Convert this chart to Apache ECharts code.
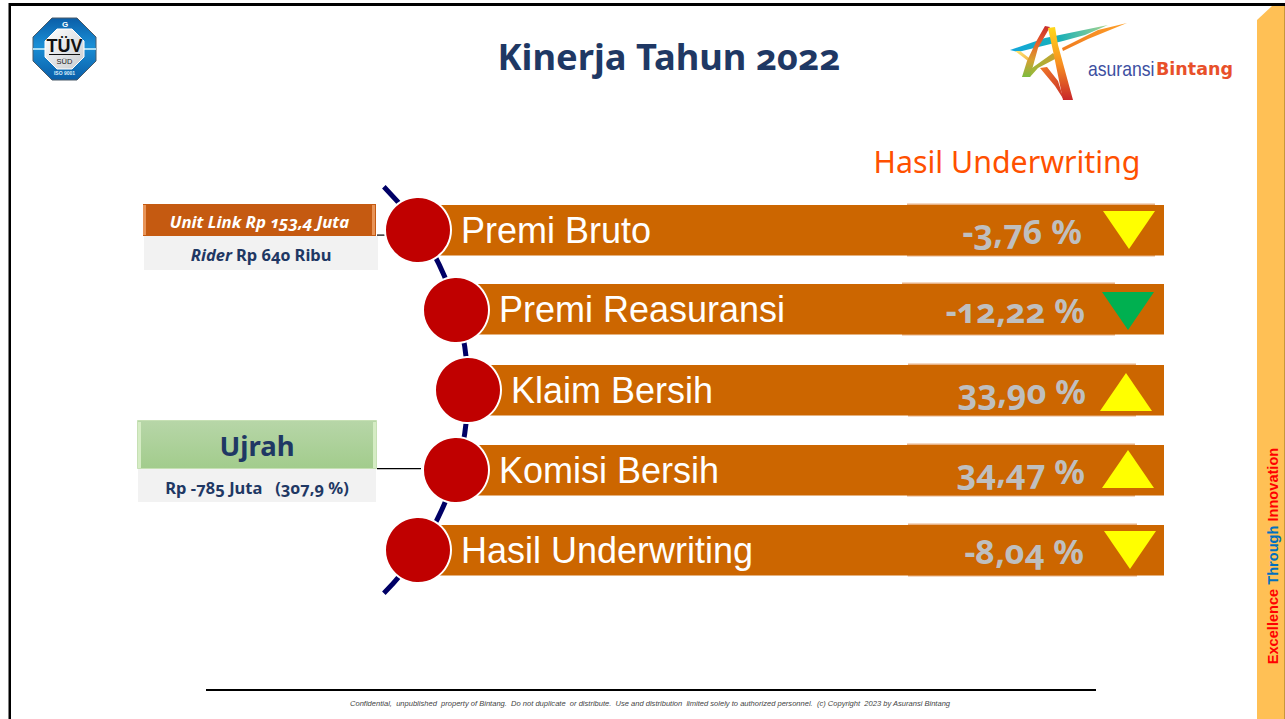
<!DOCTYPE html>
<html>
<head>
<meta charset="utf-8">
<title>Kinerja Tahun 2022</title>
<style>
  html, body { margin: 0; padding: 0; background: #fff; }
  #chart { width: 1285px; height: 719px; }
  svg text { font-feature-settings: "onum" !important; }
</style>
<script src="https://cdn.jsdelivr.net/npm/echarts@6/dist/echarts.min.js"></script>
</head>
<body>
<div id="chart"></div>
<script>
// data
const rowNames = ['Premi Bruto', 'Premi Reasuransi', 'Klaim Bersih', 'Komisi Bersih', 'Hasil Underwriting']
const rowValues = [-3.76, -12.22, 33.90, 34.47, -8.04]
const arrowColors = ['#ffff00', '#00b050', '#ffff00', '#ffff00', '#ffff00']
const titleText = 'Kinerja Tahun 2022'
const subtitleText = 'Hasil Underwriting'
const unitLinkText = 'Unit Link Rp 153,4 Juta'
const riderLabel = 'Rider'
const riderText = 'Rp 640 Ribu'
const ujrahLabel = 'Ujrah'
const ujrahText = 'Rp -785 Juta   (307,9 %)'
const footerText = 'Confidential,  unpublished  property of Bintang.  Do not duplicate  or distribute.  Use and distribution  limited solely to authorized personnel.  (c) Copyright  2023 by Asuransi Bintang'

// layout of each row, in page pixels
const circleX = [418, 456, 468, 456, 418]
const barEnd = 1164
const barDy = [0, -1, 0, 0, 0]
const stripStart = [907, 902, 908, 907, 908]
const stripEnd = [1155, 1115, 1136, 1135, 1137]
const valueRight = [1082, 1085, 1086, 1085, 1084]
const arrowX = [1129, 1128, 1126, 1128, 1130]
const arrowDy = [0, 1, 2, -1, 0]
const navy = '#1f3864'
const candara = '"Noto Sans", Lato, sans-serif'

function fmtValue(v) {
  return v.toFixed(2).replace('.', ',') + ' %'
}

function renderBar(params, api) {
  const i = params.dataIndex
  const c = api.coord([barEnd, i])
  const start = api.coord([circleX[i], i])[0]
  const strip = api.coord([stripStart[i], i])[0]
  const stripE = api.coord([stripEnd[i], i])[0]
  const y = c[1] + barDy[i]
  return {
    type: 'group',
    children: [
      { type: 'rect', shape: { x: strip, y: y - 26.5, width: stripE - strip, height: 53 }, style: { fill: '#e8b285' } },
      { type: 'rect', shape: { x: start, y: y - 25, width: c[0] - start, height: 50.5 }, style: { fill: '#cc6600' } },
      { type: 'text', x: start + 43, y: y, style: { text: rowNames[i], fill: '#fff', font: '36px "Liberation Sans", Arial, sans-serif', align: 'left', verticalAlign: 'middle' } },
      { type: 'text', x: valueRight[i], y: y + 1, style: { text: fmtValue(api.value(2)), fill: '#bfbfbf', font: 'bold 34px ' + candara, align: 'right', verticalAlign: 'middle' } }
    ]
  }
}

function renderArrow(params, api) {
  const i = params.dataIndex
  const c = api.coord([arrowX[i], i])
  const up = api.value(2) > 0
  const w = 26
  const h = 19
  const y = c[1] + arrowDy[i]
  const pts = up
    ? [[c[0] - w, y + h], [c[0] + w, y + h], [c[0], y - h]]
    : [[c[0] - w, y - h], [c[0] + w, y - h], [c[0], y + h]]
  return { type: 'polygon', shape: { points: pts }, style: { fill: arrowColors[i] } }
}

function rect(x, y, w, h, fill) {
  return { type: 'rect', shape: { x: x, y: y, width: w, height: h }, style: { fill: fill } }
}

function label(x, y, text, font, fill, extra) {
  return {
    type: 'text', x: x, y: y,
    style: Object.assign({ text: text, font: font, fill: fill, align: 'center', verticalAlign: 'middle' }, extra || {})
  }
}

// logo stroke, colours run along (x2, y2)
function band(points, x2, y2, colors) {
  return {
    type: 'polygon',
    shape: { points: points },
    style: {
      fill: new echarts.graphic.LinearGradient(0, 0, x2, y2, colors.map((c, i) => ({ offset: i / (colors.length - 1), color: c })))
    }
  }
}

const frame = [
  rect(9, 3, 1276, 3, '#000'),
  rect(8.5, 3, 2.5, 716, '#000'),
  { type: 'polygon', shape: { points: [[1257, 20], [1272, 6], [1285, 6], [1285, 719], [1257, 719]] }, style: { fill: '#ffc055' } },
  rect(1284, 6, 1, 713, '#c9963c'),
  rect(206, 689, 890, 2, '#000'),
  label(650, 703, footerText, 'italic 7.55px "Liberation Sans", Arial, sans-serif', '#444'),
  {
    type: 'text', x: 1273, y: 556, rotation: Math.PI / 2,
    style: {
      text: '{r|Excellence} {b|Through} {r|Innovation}',
      align: 'center', verticalAlign: 'middle',
      font: 'bold 14.6px "Liberation Sans", Arial, sans-serif',
      rich: {
        r: { fill: '#ff0000', font: 'bold 14.6px "Liberation Sans", Arial, sans-serif' },
        b: { fill: '#0070c0', font: 'bold 14.6px "Liberation Sans", Arial, sans-serif' }
      }
    }
  }
]

const header = [
  label(669, 56, titleText, 'bold 36.3px ' + candara, navy),
  label(1007, 161, subtitleText, '30.3px ' + candara, '#ff5000')
]

// dark arc behind the row circles
const arc = {
  type: 'arc',
  shape: { cx: 180.7, cy: 390, r: 287.3, startAngle: -Math.PI / 4, endAngle: Math.PI / 4 },
  style: { stroke: '#000066', lineWidth: 5, fill: 'none' }
}

const tuvOuter = [[52, 18], [77, 18], [96, 37], [96, 61], [77, 80], [52, 80], [33, 61], [33, 37]]
const tuvInner = [[57, 29], [72, 29], [84, 41], [84, 57], [72, 69], [57, 69], [45, 57], [45, 41]]
const tuvLogo = [
  {
    type: 'polygon', shape: { points: tuvOuter },
    style: {
      stroke: '#4a5a68', lineWidth: 1,
      fill: new echarts.graphic.LinearGradient(0, 0, 0, 1, [{ offset: 0, color: '#0a5ea8' }, { offset: 0.45, color: '#1a8fd6' }, { offset: 1, color: '#0a5ea8' }])
    }
  },
  rect(33, 48, 63, 2, '#a8dcf4'),
  {
    type: 'polygon', shape: { points: tuvInner },
    style: {
      stroke: '#fff', lineWidth: 1,
      fill: new echarts.graphic.LinearGradient(0, 0, 1, 1, [{ offset: 0, color: '#fff' }, { offset: 1, color: '#c8ccd0' }])
    }
  },
  label(65, 24, 'G', 'bold 8px "Liberation Sans", Arial, sans-serif', '#fff'),
  label(64.5, 46, 'TÜV', 'bold 18px "Liberation Sans", Arial, sans-serif', '#111', { }),
  rect(49, 54, 31, 1, '#111'),
  label(64.5, 61, 'SÜD', '7.5px "Liberation Sans", Arial, sans-serif', '#222'),
  label(64.5, 73, 'ISO 9001', 'bold 5px "Liberation Sans", Arial, sans-serif', '#dceefa')
]

const starLogo = [
  band([[1010, 50], [1045, 38], [1108, 25], [1085, 35], [1063, 41], [1018, 52]], 1, 0, ['#12a6dc', '#18b0b8', '#a8d48c']),
  band([[1015, 51], [1020, 51], [1033, 61], [1032, 64]], 1, 1, ['#ffe878', '#f0a838']),
  band([[1053, 53], [1032, 68], [1022, 77], [1030, 77], [1038, 68], [1057, 58]], 1, 0, ['#8dbf3c', '#c9a030']),
  band([[1040, 68], [1047, 67], [1058, 81], [1064, 100], [1055, 86]], 1, 1, ['#f07828', '#c8302a']),
  band([[1045, 26], [1050, 27], [1038, 48], [1030, 77], [1022, 77], [1027, 61], [1037, 40]], 0, 1, ['#c82c2c', '#e8602a', '#d8a030', '#7cbc40']),
  band([[1127, 23], [1098, 30], [1062, 48], [1063, 51], [1088, 39]], 1, 0, ['#f07c20', '#ffa028']),
  band([[1048, 28], [1055, 27], [1058, 45], [1073, 100], [1063, 100], [1053, 51]], 0, 1, ['#ffd81a', '#f89020', '#c8262a']),
  {
    type: 'text', x: 1088, y: 69, scaleX: 0.88,
    style: { text: 'asuransi', font: '20px "Liberation Sans", Arial, sans-serif', fill: '#3d4fa1', align: 'left', verticalAlign: 'middle' }
  },
  label(1156, 69, 'Bintang', 'bold 17.5px "DejaVu Sans", sans-serif', '#e8502a', { align: 'left' })
]

const edge = function (x, y, h, fill) { return rect(x, y, 3, h, fill) }
const callouts = [
  rect(377, 234.5, 10, 1.2, '#000'),
  rect(377, 468, 44, 1.2, '#000'),
  rect(143, 204, 233, 32, '#c55a11'),
  edge(143, 205, 30, '#e89458'),
  edge(372, 205, 30, '#e89458'),
  label(259.5, 221, unitLinkText, 'italic bold 16.8px ' + candara, '#fff'),
  rect(144, 236, 234, 34, '#f2f2f2'),
  {
    type: 'text', x: 261, y: 254,
    style: {
      text: '{i|' + riderLabel + '} {n|' + riderText + '}',
      align: 'center', verticalAlign: 'middle',
      font: 'bold 16.5px ' + candara,
      rich: {
        i: { fill: navy, font: 'italic bold 16.5px ' + candara },
        n: { fill: navy, font: 'bold 16.5px ' + candara }
      }
    }
  },
  {
    type: 'rect', shape: { x: 137.5, y: 420.5, width: 239, height: 48 },
    style: {
      stroke: '#c6e0b4', lineWidth: 1,
      fill: new echarts.graphic.LinearGradient(0, 0, 0, 1, [{ offset: 0, color: '#b7d6a8' }, { offset: 1, color: '#a2cc8c' }])
    }
  },
  edge(138, 422, 46, '#d5ecc4'),
  edge(373, 422, 46, '#d5ecc4'),
  label(257, 445, ujrahLabel, 'bold 27.5px ' + candara, navy),
  rect(138, 469, 238, 33, '#f2f2f2'),
  label(257, 487, ujrahText, 'bold 16.5px ' + candara, navy)
]

const chart = echarts.init(document.getElementById('chart'), null, { renderer: 'svg' })
chart.setOption({
  animation: false,
  backgroundColor: '#fff',
  grid: { left: 0, width: 1285, top: 190, height: 400 },
  xAxis: { type: 'value', min: 0, max: 1285, show: false },
  yAxis: { type: 'category', data: rowNames, inverse: true, show: false },
  graphic: { elements: [arc].concat(frame, header, tuvLogo, starLogo, callouts) },
  series: [
    {
      type: 'custom',
      name: 'Baris',
      z: 3,
      renderItem: renderBar,
      clip: false,
      encode: { x: 0, y: 1 },
      data: rowNames.map((n, i) => [barEnd, n, rowValues[i]])
    },
    {
      type: 'custom',
      name: 'Arah',
      z: 4,
      renderItem: renderArrow,
      clip: false,
      encode: { x: 0, y: 1 },
      data: rowNames.map((n, i) => [arrowX[i], n, rowValues[i]])
    },
    {
      type: 'scatter',
      name: 'Lingkaran',
      z: 5,
      symbolSize: 66,
      itemStyle: { color: '#c00000', borderColor: '#fff', borderWidth: 2, opacity: 1 },
      data: rowNames.map((n, i) => [circleX[i], n])
    }
  ]
})
</script>
</body>
</html>
